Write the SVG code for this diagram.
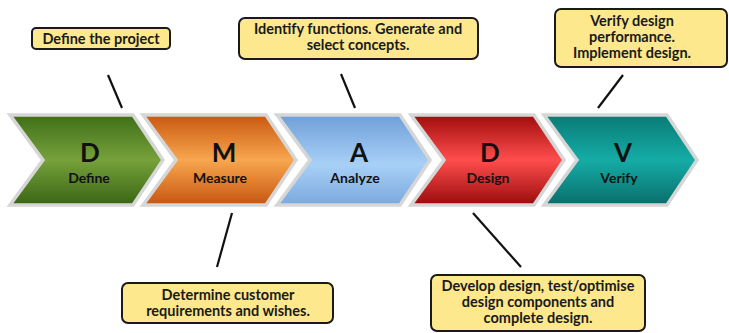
<svg xmlns="http://www.w3.org/2000/svg" width="729" height="333" viewBox="0 0 729 333">
<defs>
<linearGradient id="gG" x1="0" y1="0" x2="0" y2="1"><stop offset="0" stop-color="#3f6e17"/><stop offset="0.5" stop-color="#76a13b"/><stop offset="1" stop-color="#3a6514"/></linearGradient>
<linearGradient id="gO" x1="0" y1="0" x2="0" y2="1"><stop offset="0" stop-color="#c9580f"/><stop offset="0.5" stop-color="#f8a64f"/><stop offset="1" stop-color="#c65610"/></linearGradient>
<linearGradient id="gB" x1="0" y1="0" x2="0" y2="1"><stop offset="0" stop-color="#6f9fd8"/><stop offset="0.55" stop-color="#a8d0f7"/><stop offset="1" stop-color="#7aa9de"/></linearGradient>
<linearGradient id="gR" x1="0" y1="0" x2="0" y2="1"><stop offset="0" stop-color="#a00c0c"/><stop offset="0.5" stop-color="#ff4d4d"/><stop offset="1" stop-color="#9a0b0b"/></linearGradient>
<linearGradient id="gT" x1="0" y1="0" x2="0" y2="1"><stop offset="0" stop-color="#0b7a75"/><stop offset="0.5" stop-color="#15aca6"/><stop offset="1" stop-color="#096e6a"/></linearGradient>
<path id="chev" d="M0,0 L123,0 L153,45 L123,90 L0,90 L33,45 Z"/>
</defs>
<style>
.chev{stroke:#d6d6d6;stroke-width:3.5;stroke-linejoin:miter}
.big{font-family:Lato,"Liberation Sans",sans-serif;font-weight:bold;font-size:26px;fill:#111;text-anchor:middle}
.lbl{font-family:Lato,"Liberation Sans",sans-serif;font-weight:bold;font-size:14px;fill:#111;text-anchor:middle}
.box{fill:#fde88e;stroke:#1a1a1a;stroke-width:2}
.ct{font-family:Lato,"Liberation Sans",sans-serif;font-weight:bold;font-size:14.5px;fill:#1a1a1a;text-anchor:middle}
.conn{stroke:#111;stroke-width:2.2;fill:none}
</style>
<rect width="729" height="333" fill="#ffffff"/>
<g id="connectors">
<line class="conn" x1="108" y1="75" x2="122" y2="108"/>
<line class="conn" x1="341" y1="74" x2="355" y2="108"/>
<line class="conn" x1="623" y1="75" x2="598" y2="108"/>
<line class="conn" x1="232" y1="213" x2="217" y2="267"/>
<line class="conn" x1="473" y1="213" x2="521" y2="267"/>
</g>
<g id="step-define" transform="translate(10,115)">
<use href="#chev" class="chev" fill="url(#gG)"/>
<text class="big" x="80" y="47">D</text>
<text class="lbl" x="79" y="68">Define</text>
</g>
<g id="step-measure" transform="translate(143,115)">
<use href="#chev" class="chev" fill="url(#gO)"/>
<text class="big" x="81" y="47">M</text>
<text class="lbl" x="77" y="68">Measure</text>
</g>
<g id="step-analyze" transform="translate(277,115)">
<use href="#chev" class="chev" fill="url(#gB)"/>
<text class="big" x="82" y="47">A</text>
<text class="lbl" x="78" y="68">Analyze</text>
</g>
<g id="step-design" transform="translate(411,115)">
<use href="#chev" class="chev" fill="url(#gR)"/>
<text class="big" x="79" y="47">D</text>
<text class="lbl" x="77" y="68">Design</text>
</g>
<g id="step-verify" transform="translate(544,115)">
<use href="#chev" class="chev" fill="url(#gT)"/>
<text class="big" x="79" y="47">V</text>
<text class="lbl" x="75" y="68">Verify</text>
</g>
<g id="note-define">
<rect class="box" x="32" y="28" width="138" height="21" rx="4"/>
<text class="ct" x="101" y="43.5">Define the project</text>
</g>
<g id="note-analyze">
<rect class="box" x="239" y="18" width="239" height="41" rx="6"/>
<text class="ct" x="358" y="34">Identify functions. Generate and</text>
<text class="ct" x="358" y="50">select concepts.</text>
</g>
<g id="note-verify">
<rect class="box" x="555" y="9" width="172" height="58" rx="6"/>
<text class="ct" x="632" y="26">Verify design</text>
<text class="ct" x="632" y="42">performance.</text>
<text class="ct" x="632" y="58">Implement design.</text>
</g>
<g id="note-measure">
<rect class="box" x="122" y="283" width="211" height="40" rx="6"/>
<text class="ct" x="228" y="300">Determine customer</text>
<text class="ct" x="228" y="316">requirements and wishes.</text>
</g>
<g id="note-design">
<rect class="box" x="431" y="275" width="214" height="56" rx="6"/>
<text class="ct" x="538" y="291">Develop design, test/optimise</text>
<text class="ct" x="538" y="307">design components and</text>
<text class="ct" x="538" y="323">complete design.</text>
</g>
</svg>
